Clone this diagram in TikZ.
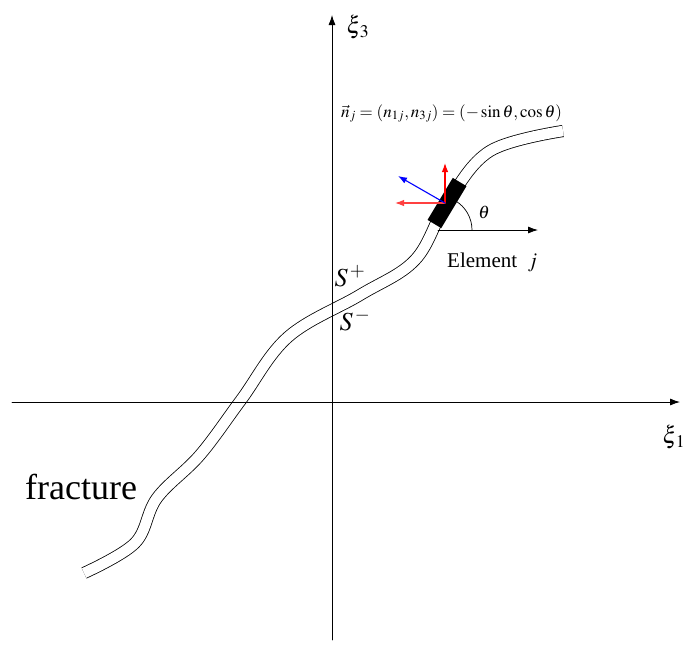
\documentclass[tikz,border=0pt]{standalone}
\usepackage{mathptmx}
\usepackage{fontspec}
\setmainfont{Liberation Serif}
\usetikzlibrary{arrows.meta}

\begin{document}
\begin{tikzpicture}[x=1pt,y=-1pt,line cap=round,line join=round,>={Latex[length=10pt,width=7pt]}]
  \tikzset{
    axisline/.style={line width=0.8pt},
    fracline/.style={line width=0.8pt,line cap=butt,double=white,double distance=10.5pt},
    vecline/.style={line width=1.1pt,-{Latex[length=9pt,width=6.5pt]}},
  }
  \useasboundingbox (0,0) rectangle (692,657);

  % ==================== fracture ====================
  \draw[fracline] plot[smooth,tension=0.6] coordinates {(84,573) (135,543) (157,498) (200,455) (241,400) (288,337) (360,295) (415,260) (447,203) (490,151) (563,131)};
  \node[anchor=base west,inner sep=0pt] (frac) at (25,499) {\fontsize{36}{40}\selectfont fracture};

  % ==================== axes ====================
  \coordinate (O1) at (12,402);
  \coordinate (E1) at (680,402);
  \coordinate (O3) at (332,640);
  \coordinate (E3) at (332,15);
  \draw[axisline,->] (O1) -- (E1);
  \draw[axisline,->] (O3) -- (E3);
  \node (xi1) at (674,437) {\fontsize{24}{28}\selectfont$\xi_{\kern1.5pt 1}$};
  \node (xi3) at (358,27) {\fontsize{24}{28}\selectfont$\xi_{\kern1.5pt 3}$};

  % faces
  \node (Splus) at (350,276) {\fontsize{26}{30}\selectfont$S^{\,+}$};
  \node (Sminus) at (355,320) {\fontsize{26}{30}\selectfont$S^{\,-}$};

  % ==================== element j ====================
  \node[fill=black,minimum width=49pt,minimum height=16pt,inner sep=0pt,rotate=59] (elem) at (447,203) {};
  \coordinate (A) at (438,230);
  \coordinate (B) at (538,230);
  \draw[axisline,->] (A) -- (B);
  \draw[line width=0.7pt] (472,230) arc[start angle=0,end angle=-59,radius=34];
  \node (theta) at (484,212) {\fontsize{18}{20}\selectfont$\theta$};
  \node[anchor=west,inner sep=0pt] (elemlabel) at (447,262) {\fontsize{21}{24}\selectfont Element\ \ $j$};

  % normal and its components
  \coordinate (C) at (445,203);
  \coordinate (N) at (398,176);
  \coordinate (N1) at (395,203);
  \coordinate (N3) at (445,163);
  \draw[vecline,red!75] (C) -- (N1);
  \draw[vecline,red] (C) -- (N3);
  \draw[vecline,blue] (C) -- (N);

  \node[anchor=base west,inner sep=0pt] (nvec) at (341,117) {\fontsize{17}{20}\selectfont$\vec{n}_j=(n_{1j},n_{3j})=(-\sin\theta,\cos\theta)$};
\end{tikzpicture}
\end{document}
